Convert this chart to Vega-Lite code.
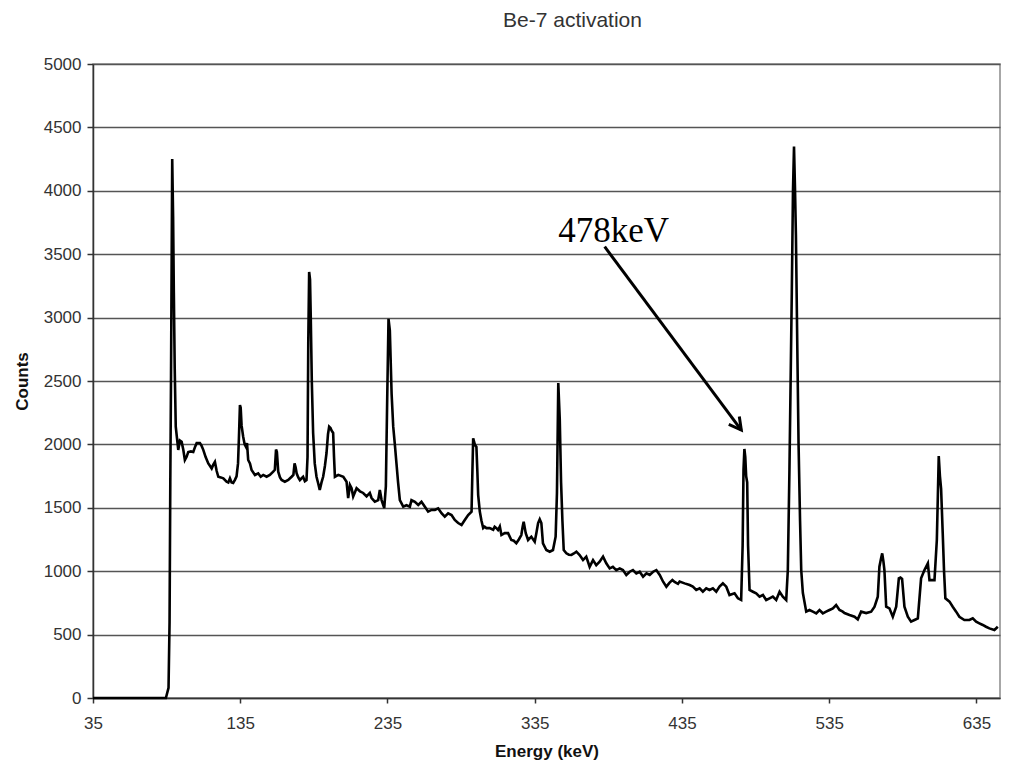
{
  "$schema": "https://vega.github.io/schema/vega-lite/v6.json",
  "autosize": "none",
  "width": 907,
  "height": 634,
  "padding": {"left": 93, "top": 64, "right": 9, "bottom": 84},
  "background": "white",
  "title": {"text": "Be-7 activation", "fontSize": 21, "fontWeight": "normal", "color": "#333333", "font": "Liberation Sans", "anchor": "middle", "offset": 24, "dx": 26},
  "datasets": {
    "spectrum": [
      {"energy":35,"counts":0},{"energy":84.5,"counts":0},{"energy":86.3,"counts":80},{"energy":87.0,"counts":600},{"energy":87.5,"counts":1700},{"energy":88.0,"counts":2550},{"energy":88.8,"counts":4250},{"energy":89.4,"counts":3800},{"energy":89.9,"counts":3200},{"energy":90.5,"counts":2600},{"energy":91.2,"counts":2140},{"energy":92.9,"counts":1956},{"energy":94.0,"counts":2030},{"energy":95.2,"counts":2020},{"energy":96.3,"counts":1960},{"energy":97.4,"counts":1877},{"energy":98.5,"counts":1900},{"energy":99.7,"counts":1940},{"energy":101.5,"counts":1945},{"energy":103.1,"counts":1940},{"energy":104.3,"counts":1980},{"energy":105.4,"counts":2010},{"energy":107.6,"counts":2010},{"energy":108.7,"counts":1990},{"energy":109.9,"counts":1957},{"energy":111.5,"counts":1900},{"energy":113.3,"counts":1850},{"energy":114.5,"counts":1830},{"energy":115.6,"counts":1810},{"energy":116.7,"counts":1840},{"energy":117.8,"counts":1862},{"energy":119.0,"counts":1790},{"energy":120.1,"counts":1745},{"energy":121.8,"counts":1740},{"energy":123.5,"counts":1732},{"energy":125.7,"counts":1706},{"energy":126.9,"counts":1700},{"energy":128.0,"counts":1732},{"energy":129.1,"counts":1700},{"energy":130.2,"counts":1696},{"energy":131.4,"counts":1720},{"energy":132.5,"counts":1748},{"energy":133.5,"counts":1850},{"energy":134.1,"counts":2050},{"energy":134.8,"counts":2310},{"energy":135.3,"counts":2290},{"energy":135.9,"counts":2150},{"energy":137.0,"counts":2061},{"energy":138.0,"counts":2000},{"energy":138.9,"counts":1980},{"energy":139.6,"counts":2010},{"energy":140.4,"counts":1877},{"energy":141.6,"counts":1850},{"energy":142.7,"counts":1798},{"energy":145.0,"counts":1759},{"energy":147.2,"counts":1772},{"energy":148.9,"counts":1745},{"energy":150.6,"counts":1759},{"energy":152.9,"counts":1745},{"energy":155.1,"counts":1759},{"energy":157.4,"counts":1785},{"energy":158.5,"counts":1800},{"energy":159.3,"counts":1960},{"energy":159.9,"counts":1940},{"energy":160.8,"counts":1785},{"energy":162.0,"counts":1740},{"energy":163.1,"counts":1719},{"energy":165.3,"counts":1706},{"energy":167.6,"counts":1719},{"energy":169.9,"counts":1745},{"energy":171.1,"counts":1760},{"energy":171.9,"counts":1850},{"energy":172.6,"counts":1820},{"energy":173.3,"counts":1772},{"energy":174.4,"counts":1740},{"energy":175.5,"counts":1719},{"energy":177.7,"counts":1745},{"energy":178.9,"counts":1710},{"energy":180.0,"counts":1719},{"energy":180.7,"counts":1900},{"energy":181.2,"counts":2800},{"energy":181.8,"counts":3360},{"energy":182.4,"counts":3300},{"energy":182.9,"counts":3000},{"energy":183.6,"counts":2500},{"energy":184.5,"counts":2090},{"energy":185.6,"counts":1850},{"energy":186.8,"counts":1745},{"energy":188.0,"counts":1690},{"energy":189.0,"counts":1640},{"energy":190.2,"counts":1700},{"energy":191.3,"counts":1745},{"energy":192.5,"counts":1830},{"energy":193.6,"counts":1932},{"energy":194.6,"counts":2080},{"energy":195.4,"counts":2140},{"energy":196.3,"counts":2130},{"energy":197.0,"counts":2110},{"energy":198.1,"counts":2090},{"energy":198.7,"counts":1900},{"energy":199.3,"counts":1745},{"energy":201.6,"counts":1760},{"energy":205.0,"counts":1745},{"energy":207.2,"counts":1706},{"energy":208.3,"counts":1577},{"energy":209.5,"counts":1680},{"energy":210.6,"counts":1655},{"energy":211.7,"counts":1590},{"energy":214.0,"counts":1655},{"energy":216.3,"counts":1630},{"energy":218.5,"counts":1617},{"energy":220.8,"counts":1590},{"energy":223.0,"counts":1617},{"energy":224.2,"counts":1577},{"energy":226.4,"counts":1548},{"energy":228.7,"counts":1561},{"energy":229.8,"counts":1640},{"energy":231.0,"counts":1561},{"energy":232.8,"counts":1498},{"energy":233.9,"counts":1670},{"energy":234.8,"counts":2350},{"energy":235.7,"counts":2990},{"energy":236.6,"counts":2900},{"energy":237.8,"counts":2400},{"energy":238.9,"counts":2140},{"energy":240.0,"counts":2000},{"energy":241.1,"counts":1850},{"energy":242.2,"counts":1700},{"energy":243.4,"counts":1561},{"energy":245.7,"counts":1509},{"energy":247.9,"counts":1520},{"energy":250.2,"counts":1509},{"energy":251.3,"counts":1561},{"energy":253.6,"counts":1548},{"energy":255.9,"counts":1522},{"energy":258.1,"counts":1548},{"energy":260.4,"counts":1509},{"energy":262.6,"counts":1470},{"energy":264.9,"counts":1483},{"energy":267.2,"counts":1483},{"energy":269.4,"counts":1496},{"energy":271.7,"counts":1457},{"energy":273.9,"counts":1430},{"energy":276.2,"counts":1457},{"energy":278.5,"counts":1443},{"energy":280.7,"counts":1404},{"energy":283.0,"counts":1380},{"energy":285.3,"counts":1365},{"energy":287.5,"counts":1404},{"energy":289.8,"counts":1443},{"energy":292.1,"counts":1470},{"energy":292.7,"counts":1800},{"energy":293.2,"counts":2048},{"energy":294.3,"counts":2000},{"energy":295.4,"counts":1980},{"energy":296.0,"counts":1800},{"energy":296.6,"counts":1600},{"energy":297.7,"counts":1470},{"energy":298.8,"counts":1400},{"energy":300.0,"counts":1340},{"energy":301.0,"counts":1351},{"energy":302.2,"counts":1340},{"energy":304.4,"counts":1340},{"energy":306.8,"counts":1327},{"energy":307.8,"counts":1351},{"energy":309.0,"counts":1340},{"energy":310.1,"counts":1325},{"energy":311.3,"counts":1353},{"energy":312.4,"counts":1285},{"energy":314.6,"counts":1300},{"energy":316.9,"counts":1300},{"energy":319.1,"counts":1246},{"energy":320.8,"counts":1240},{"energy":322.5,"counts":1220},{"energy":324.2,"counts":1250},{"energy":325.9,"counts":1285},{"energy":326.8,"counts":1350},{"energy":327.5,"counts":1390},{"energy":328.9,"counts":1300},{"energy":330.5,"counts":1246},{"energy":332.7,"counts":1272},{"energy":335.0,"counts":1233},{"energy":336.1,"counts":1300},{"energy":337.3,"counts":1380},{"energy":338.4,"counts":1409},{"energy":339.5,"counts":1380},{"energy":340.6,"counts":1220},{"energy":342.9,"counts":1167},{"energy":345.2,"counts":1154},{"energy":347.4,"counts":1167},{"energy":349.2,"counts":1272},{"energy":350.1,"counts":1617},{"energy":351.0,"counts":2484},{"energy":352.0,"counts":2200},{"energy":352.9,"counts":1700},{"energy":353.8,"counts":1400},{"energy":354.7,"counts":1167},{"energy":356.5,"counts":1141},{"energy":358.2,"counts":1130},{"energy":359.9,"counts":1128},{"energy":361.6,"counts":1140},{"energy":363.3,"counts":1154},{"energy":365.5,"counts":1128},{"energy":367.8,"counts":1088},{"energy":370.0,"counts":1115},{"energy":372.3,"counts":1035},{"energy":374.6,"counts":1088},{"energy":376.8,"counts":1048},{"energy":379.1,"counts":1075},{"energy":381.4,"counts":1115},{"energy":383.6,"counts":1062},{"energy":385.9,"counts":1022},{"energy":388.1,"counts":1035},{"energy":390.4,"counts":1009},{"energy":392.7,"counts":1022},{"energy":394.9,"counts":1009},{"energy":397.2,"counts":970},{"energy":399.5,"counts":996},{"energy":401.7,"counts":1009},{"energy":404.0,"counts":983},{"energy":406.3,"counts":996},{"energy":408.6,"counts":957},{"energy":410.9,"counts":983},{"energy":413.1,"counts":970},{"energy":415.4,"counts":996},{"energy":417.6,"counts":1009},{"energy":419.9,"counts":970},{"energy":422.2,"counts":917},{"energy":424.4,"counts":878},{"energy":426.6,"counts":910},{"energy":428.5,"counts":930},{"energy":430.0,"counts":915},{"energy":432.3,"counts":900},{"energy":433.4,"counts":918},{"energy":436.8,"counts":904},{"energy":440.2,"counts":891},{"energy":442.4,"counts":878},{"energy":444.7,"counts":852},{"energy":447.0,"counts":865},{"energy":449.2,"counts":838},{"energy":451.5,"counts":865},{"energy":453.7,"counts":852},{"energy":456.0,"counts":865},{"energy":458.3,"counts":838},{"energy":460.5,"counts":878},{"energy":462.8,"counts":905},{"energy":465.1,"counts":878},{"energy":467.3,"counts":812},{"energy":470.7,"counts":825},{"energy":473.0,"counts":786},{"energy":475.2,"counts":773},{"energy":476.2,"counts":1200},{"energy":476.8,"counts":1800},{"energy":477.4,"counts":1964},{"energy":478.0,"counts":1900},{"energy":478.6,"counts":1750},{"energy":479.3,"counts":1700},{"energy":479.9,"counts":1200},{"energy":480.9,"counts":852},{"energy":483.2,"counts":838},{"energy":485.4,"counts":825},{"energy":487.7,"counts":799},{"energy":490.0,"counts":812},{"energy":492.2,"counts":773},{"energy":494.5,"counts":786},{"energy":496.7,"counts":799},{"energy":499.0,"counts":773},{"energy":501.3,"counts":838},{"energy":503.5,"counts":799},{"energy":505.8,"counts":773},{"energy":506.9,"counts":1009},{"energy":508.0,"counts":1800},{"energy":508.8,"counts":2500},{"energy":509.6,"counts":3200},{"energy":510.4,"counts":4000},{"energy":511.1,"counts":4350},{"energy":511.8,"counts":4000},{"energy":512.4,"counts":3650},{"energy":513.3,"counts":2800},{"energy":514.2,"counts":2000},{"energy":515.2,"counts":1400},{"energy":516.0,"counts":1009},{"energy":517.1,"counts":830},{"energy":519.4,"counts":681},{"energy":521.6,"counts":694},{"energy":523.9,"counts":681},{"energy":526.2,"counts":668},{"energy":528.4,"counts":694},{"energy":530.7,"counts":668},{"energy":532.9,"counts":681},{"energy":535.2,"counts":694},{"energy":537.5,"counts":707},{"energy":539.7,"counts":733},{"energy":542.0,"counts":694},{"energy":544.2,"counts":681},{"energy":545.4,"counts":670},{"energy":548.8,"counts":655},{"energy":552.2,"counts":641},{"energy":554.4,"counts":620},{"energy":556.7,"counts":681},{"energy":560.1,"counts":670},{"energy":563.5,"counts":681},{"energy":565.8,"counts":720},{"energy":568.0,"counts":799},{"energy":569.1,"counts":1035},{"energy":570.2,"counts":1100},{"energy":571.0,"counts":1141},{"energy":571.8,"counts":1080},{"energy":572.5,"counts":1009},{"energy":573.7,"counts":720},{"energy":575.9,"counts":707},{"energy":578.2,"counts":641},{"energy":580.5,"counts":720},{"energy":582.3,"counts":944},{"energy":583.4,"counts":950},{"energy":584.5,"counts":940},{"energy":586.1,"counts":720},{"energy":588.4,"counts":641},{"energy":590.6,"counts":602},{"energy":592.9,"counts":615},{"energy":595.2,"counts":628},{"energy":597.4,"counts":944},{"energy":599.7,"counts":1009},{"energy":602.0,"counts":1062},{"energy":603.1,"counts":930},{"energy":606.5,"counts":930},{"energy":608.1,"counts":1246},{"energy":608.8,"counts":1600},{"energy":609.4,"counts":1908},{"energy":610.2,"counts":1750},{"energy":611.0,"counts":1650},{"energy":612.1,"counts":1300},{"energy":613.0,"counts":1000},{"energy":613.9,"counts":786},{"energy":616.7,"counts":760},{"energy":618.9,"counts":720},{"energy":621.2,"counts":681},{"energy":623.4,"counts":641},{"energy":626.8,"counts":615},{"energy":630.2,"counts":615},{"energy":632.5,"counts":628},{"energy":634.8,"counts":602},{"energy":637.0,"counts":589},{"energy":639.3,"counts":576},{"energy":641.5,"counts":562},{"energy":643.8,"counts":549},{"energy":647.2,"counts":536},{"energy":649.5,"counts":562}
    ],
    "arrow": [{"e1": 382.5, "c1": 3559, "e2": 475.3, "c2": 2113}],
    "label": [{"text": "478keV", "energy": 388.6, "counts": 3600}]
  },
  "layer": [
    {
      "data": {"name": "spectrum"},
      "mark": {"type": "line", "color": "black", "strokeWidth": 2.6, "strokeJoin": "miter"},
      "encoding": {
        "x": {"field": "energy", "type": "quantitative", "scale": {"domain": [35, 651], "nice": false, "zero": false},
          "axis": {"values": [35, 135, 235, 335, 435, 535, 635], "format": "d", "title": "Energy (keV)", "grid": false}},
        "y": {"field": "counts", "type": "quantitative", "scale": {"domain": [0, 5000], "nice": false},
          "axis": {"values": [0, 500, 1000, 1500, 2000, 2500, 3000, 3500, 4000, 4500, 5000], "format": "d", "title": "Counts", "grid": true}}
      }
    },
    {
      "data": {"name": "arrow"},
      "mark": {"type": "rule", "color": "black", "strokeWidth": 3},
      "encoding": {
        "x": {"field": "e1", "type": "quantitative"},
        "y": {"field": "c1", "type": "quantitative"},
        "x2": {"field": "e2"},
        "y2": {"field": "c2"}
      }
    },
    {
      "data": {"name": "arrow"},
      "mark": {"type": "point", "shape": "M-0.6,1.1L0,0L0.6,1.1", "filled": false, "stroke": "black", "strokeWidth": 3, "size": 480, "angle": 143, "opacity": 1},
      "encoding": {
        "x": {"field": "e2", "type": "quantitative"},
        "y": {"field": "c2", "type": "quantitative"}
      }
    },
    {
      "data": {"name": "label"},
      "mark": {"type": "text", "font": "Liberation Serif", "fontSize": 35, "color": "black", "align": "center", "baseline": "alphabetic"},
      "encoding": {
        "x": {"field": "energy", "type": "quantitative"},
        "y": {"field": "counts", "type": "quantitative"},
        "text": {"field": "text"}
      }
    }
  ],
  "config": {
    "font": "Liberation Sans",
    "view": {"stroke": "#8a8a8a", "strokeWidth": 1.5},
    "axis": {
      "labelFontSize": 17,
      "labelColor": "#333333",
      "labelFont": "Liberation Sans",
      "labelFlush": false,
      "labelOverlap": false,
      "titleFontSize": 17,
      "titleFontWeight": "bold",
      "titleColor": "#111111",
      "titleFont": "Liberation Sans",
      "domainColor": "#333333",
      "domainWidth": 1.5,
      "tickColor": "#333333",
      "tickWidth": 1.5,
      "gridColor": "#555555",
      "gridWidth": 1.3,
      "gridOpacity": 1
    },
    "axisX": {"tickSize": 5, "labelPadding": 12, "titlePadding": 12},
    "axisY": {"tickSize": 6, "labelPadding": 6, "titlePadding": 12}
  }
}
